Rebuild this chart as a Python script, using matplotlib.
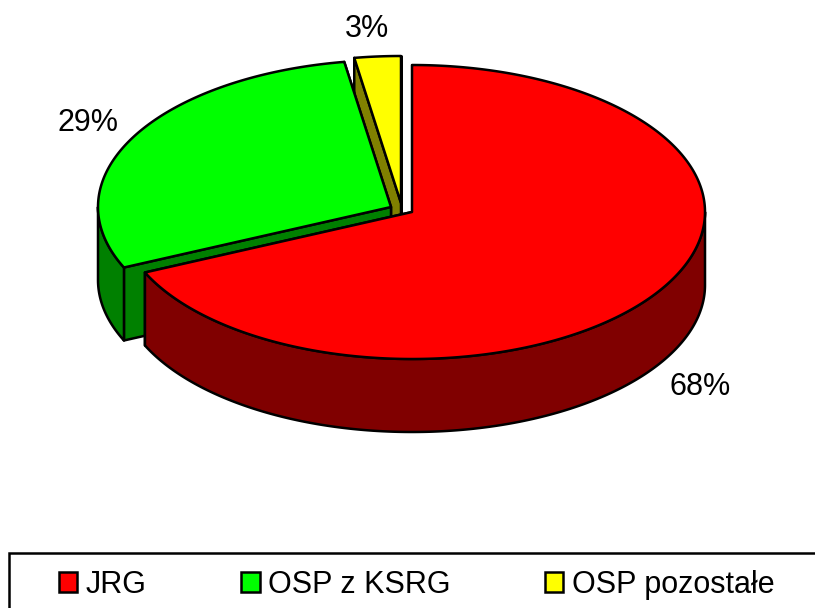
import numpy as np
import matplotlib
matplotlib.use('Agg')
import matplotlib.pyplot as plt
from matplotlib.patches import Rectangle, Patch

plt.rcParams['font.family'] = ['Liberation Sans', 'DejaVu Sans']

categories = ['JRG', 'OSP z KSRG', 'OSP pozostałe']
values = [68.25, 29.2, 2.55]
top_colors = ['#FF0000', '#00FF00', '#FFFF00']
side_colors = ['#800000', '#008000', '#808000']

# slice centres in pixels, the slices are pulled apart a bit
centers = [(412, 212), (391, 207), (401, 203)]
label_pos = [(700, 387), (88, 123), (367, 29)]
rx, ry = 293, 147
depth = 73
edge = 1.8
font_size = 22


def rim(cx, cy, t0, t1, drop=0):
    t = np.radians(np.arange(t0, t1, 0.25).tolist() + [t1])
    return cx + rx * np.sin(t), cy - ry * np.cos(t) + drop


fig = plt.figure(figsize=(8.15, 6.08), dpi=100)
ax = fig.add_axes([0, 0, 1, 1])
ax.set_xlim(0, 815)
ax.set_ylim(608, 0)
ax.axis('off')

ends = np.cumsum(values) / sum(values) * 360
starts = np.r_[0, ends[:-1]]

# back to front: yellow, green, red
for i in [2, 1, 0]:
    cx, cy = centers[i]
    t0, t1 = starts[i], ends[i]
    kw = dict(edgecolor='black', linewidth=edge, joinstyle='round')

    # flat walls at both cuts
    for t in [t1, t0]:
        x, y = rim(cx, cy, t, t)
        ax.fill([cx, x[0], x[0], cx], [cy, y[0], y[0] + depth, cy + depth],
                facecolor=side_colors[i], **kw)

    # outer wall, only the front half of the ellipse is seen
    a, b = max(t0, 90), min(t1, 270)
    if b > a:
        x, y = rim(cx, cy, a, b)
        x2, y2 = rim(cx, cy, a, b, depth)
        ax.fill(np.r_[x, x2[::-1]], np.r_[y, y2[::-1]],
                facecolor=side_colors[i], **kw)

    x, y = rim(cx, cy, t0, t1)
    ax.fill(np.r_[cx, x], np.r_[cy, y], facecolor=top_colors[i], **kw)

for i, v in enumerate(values):
    ax.text(label_pos[i][0], label_pos[i][1], f'{v:.0f}%', fontsize=font_size,
            ha='center', va='center', color='black')

# legend box runs off the right and bottom of the picture
ax.add_patch(Rectangle((9, 553), 860, 100, facecolor='white',
                       edgecolor='black', linewidth=edge))
handles = [Patch(facecolor=c, edgecolor='black', linewidth=edge) for c in top_colors]
leg = ax.legend(handles, categories, ncol=3, frameon=False, fontsize=font_size,
                loc='upper left', bbox_to_anchor=(59 / 815, 1 - 570 / 608),
                borderpad=0, borderaxespad=0, handlelength=0.6, handleheight=0.62,
                handletextpad=0.27, columnspacing=3.1)

fig.savefig('out.png', dpi=100)
